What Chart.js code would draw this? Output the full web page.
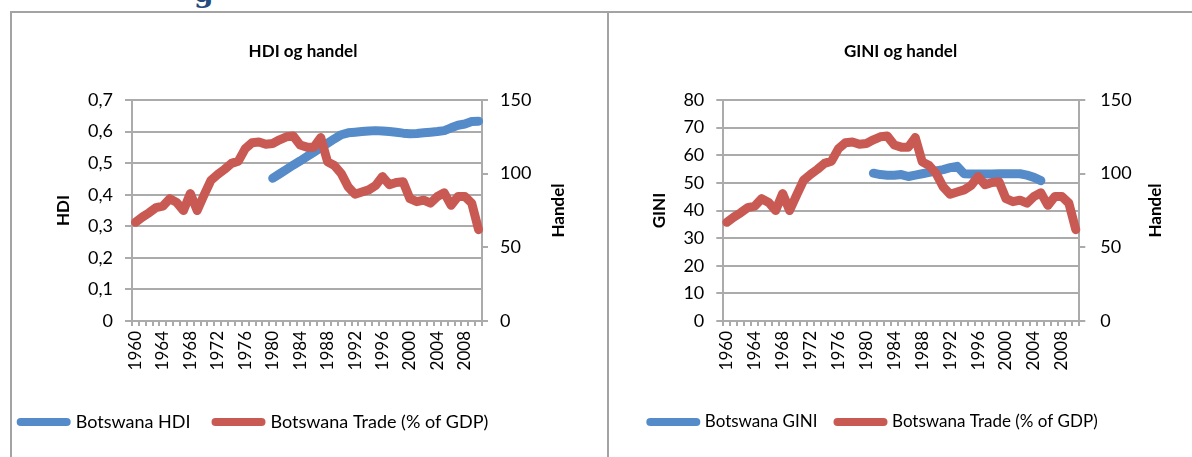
<!DOCTYPE html>
<html>
<head>
<meta charset="utf-8">
<script src="https://cdn.jsdelivr.net/npm/chart.js@4.4.1/dist/chart.umd.min.js"></script>
<style>
  html, body { margin: 0; padding: 0; background: #fff; }
  body { width: 1192px; height: 457px; position: relative; overflow: hidden; font-family: Lato, sans-serif; }
  .ln { position: absolute; background: #a3a3a3; }
  .box { position: absolute; top: 13px; height: 444px; }
  #head { position: absolute; left: 194px; top: -21px; font: bold 28px "DejaVu Serif", serif; line-height: 28px; color: #254a7d; }
</style>
</head>
<body>
<div id="head">g</div>
<div class="ln" style="left:10px;top:11px;width:1182px;height:2px"></div>
<div class="ln" style="left:10px;top:11px;width:2px;height:446px"></div>
<div class="ln" style="left:607px;top:11px;width:2px;height:446px"></div>
<div class="box" style="left:12px;width:595px"><canvas id="c1" width="595" height="444"></canvas></div>
<div class="box" style="left:609px;width:583px"><canvas id="c2" width="583" height="444"></canvas></div>

<script>
// ── data ──
const years = ['1960','1961','1962','1963','1964','1965','1966','1967','1968','1969',
  '1970','1971','1972','1973','1974','1975','1976','1977','1978','1979',
  '1980','1981','1982','1983','1984','1985','1986','1987','1988','1989',
  '1990','1991','1992','1993','1994','1995','1996','1997','1998','1999',
  '2000','2001','2002','2003','2004','2005','2006','2007','2008','2009','2010'];
const shownYears = ['1960','1964','1968','1972','1976','1980','1984','1988','1992','1996','2000','2004','2008'];

// Botswana Trade (% of GDP), 1960–2010
const trade = [67, 70.5, 73.5, 77, 78, 83, 80.5, 75, 86.5, 75,
  85.5, 95.5, 99.5, 103, 107, 108.5, 117, 121, 121.5, 120,
  120.5, 123, 125, 125.5, 119.5, 118, 118, 124.5, 108, 105.5,
  100, 91, 86, 87.5, 89, 92, 98, 92.5, 94, 94.5,
  83, 81, 82, 80, 84.5, 87, 78.5, 84.5, 84.5, 80, 62];

// Botswana HDI, 1980–2010
const hdiStart = 1980;
const hdi = [0.452, 0.466, 0.480, 0.494, 0.507, 0.521, 0.535, 0.549, 0.563, 0.577,
  0.590, 0.596, 0.598, 0.600, 0.602, 0.603, 0.602, 0.600, 0.598, 0.595,
  0.593, 0.594, 0.596, 0.598, 0.600, 0.603, 0.612, 0.620, 0.624, 0.632, 0.633];

// Botswana GINI, 1981–2005
const giniStart = 1981;
const gini = [53.5, 53.0, 52.8, 52.8, 53.0, 52.3, 52.8, 53.3, 53.8, 54.3,
  54.8, 55.5, 56.0, 53.3, 53.2, 53.2, 53.2, 53.2, 53.3, 53.3,
  53.3, 53.3, 52.8, 52.0, 50.8];

const BLUE = '#558bc8', RED = '#c95a53', GRID = '#ababab';

Chart.defaults.font.family = 'Lato';
Chart.defaults.color = '#000';

function fromYear(vals, start) {
  return years.map(y => {
    const k = +y - start;
    return k >= 0 && k < vals.length ? vals[k] : null;
  });
}

// right-hand axis title, reading bottom-to-top like the left one
const sideTitle = {
  id: 'sideTitle',
  afterDraw(c, a, o) {
    const { ctx, chartArea: ca } = c;
    ctx.save();
    ctx.translate(o.x, (ca.top + ca.bottom) / 2);
    ctx.rotate(-Math.PI / 2);
    ctx.font = 'bold 17px Lato'; ctx.fillStyle = '#000';
    ctx.textAlign = 'center'; ctx.textBaseline = 'middle';
    ctx.fillText(o.text, 0, 0);
    ctx.restore();
  }
};

// legend in the reference is not centred under the title
const shiftLegend = {
  id: 'shiftLegend',
  afterLayout(c, a, o) {
    c.legend.left += o.dx; c.legend.right += o.dx;
  }
};

function makeChart(id, cfg) {
  const lineDs = (label, data, color, order) => ({
    label, data, borderColor: color, backgroundColor: color,
    borderWidth: 9, borderCapStyle: 'round', borderJoinStyle: 'round',
    pointRadius: 0, pointHoverRadius: 0, tension: 0, spanGaps: false,
    yAxisID: order === 1 ? 'y' : 'y1', order
  });
  // legend sits at the bottom, x axis takes what is left down to the plot
  const legH = cfg.legFont + cfg.legPad + 10;
  const padB = 444 - 10 - cfg.legFont / 2 - 409;
  const xH = 444 - padB - legH - 308;

  return new Chart(document.getElementById(id), {
    type: 'line',
    data: {
      labels: years,
      datasets: [
        lineDs(cfg.label, cfg.data, BLUE, 1),
        lineDs('Botswana Trade (% of GDP)', trade, RED, 0)
      ]
    },
    plugins: [sideTitle, shiftLegend],
    options: {
      responsive: false, animation: false, events: [],
      layout: { padding: { left: 0, top: 0, right: cfg.padR, bottom: padB } },
      plugins: {
        title: {
          display: true, text: cfg.title, color: '#000',
          font: { size: 17, weight: 'bold' }, padding: { top: 28.8, bottom: 37.8 }
        },
        legend: {
          position: 'bottom',
          labels: {
            usePointStyle: true, pointStyle: 'line', pointStyleWidth: 46,
            padding: cfg.legPad, font: { size: cfg.legFont }, color: '#000',
            sort: (a, b) => a.datasetIndex - b.datasetIndex,
            generateLabels: ch => Chart.defaults.plugins.legend.labels.generateLabels(ch)
              .map(l => Object.assign(l, { lineCap: 'round', lineWidth: 8 }))
          }
        },
        tooltip: { enabled: false },
        sideTitle: { text: 'Handel', x: 547 },
        shiftLegend: { dx: cfg.dx }
      },
      scales: {
        x: {
          offset: true,
          grid: { offset: true, drawOnChartArea: false, color: GRID, lineWidth: 2, tickLength: 5 },
          border: { color: GRID, width: 2 },
          ticks: {
            autoSkip: false, minRotation: 90, maxRotation: 90, padding: 5,
            font: { size: 17 },
            callback(v, i) { return shownYears.includes(years[i]) ? years[i] : ''; }
          },
          afterFit(s) { s.height = xH; }
        },
        y: {
          position: 'left', min: 0, max: cfg.max, beginAtZero: true,
          grid: { color: GRID, lineWidth: 2, tickLength: 7 },
          border: { color: GRID, width: 2 },
          ticks: { stepSize: cfg.step, padding: 12, font: { size: 18 }, callback: cfg.fmt },
          title: {
            display: true, text: cfg.yTitle, font: { size: 17, weight: 'bold' },
            padding: { top: cfg.titlePad, bottom: 0 }
          },
          afterFit(s) { s.width = cfg.left; }
        },
        y1: {
          position: 'right', min: 0, max: 150,
          grid: { drawOnChartArea: false, color: GRID, lineWidth: 2, tickLength: 6 },
          border: { color: GRID, width: 2 },
          ticks: { stepSize: 50, padding: cfg.rPad, font: { size: 18 } },
          afterFit(s) { s.width = cfg.rightW; }
        }
      }
    }
  });
}

makeChart('c1', {
  title: 'HDI og handel', label: 'Botswana HDI', data: fromYear(hdi, hdiStart),
  yTitle: 'HDI', max: 0.7, step: 0.1,
  fmt: v => v === 0 ? '0' : v.toFixed(1).replace('.', ','),
  left: 120, rightW: 112, padR: 13, rPad: 12, titlePad: 41.8, dx: -48.5,
  legFont: 18, legPad: 25
});

makeChart('c2', {
  title: 'GINI og handel', label: 'Botswana GINI', data: fromYear(gini, giniStart),
  yTitle: 'GINI', max: 80, step: 10,
  fmt: v => String(v),
  left: 114.3, rightW: 112.7, padR: 0, rPad: 15, titlePad: 40.8, dx: -26.5,
  legFont: 17, legPad: 20
});
</script>
</body>
</html>
